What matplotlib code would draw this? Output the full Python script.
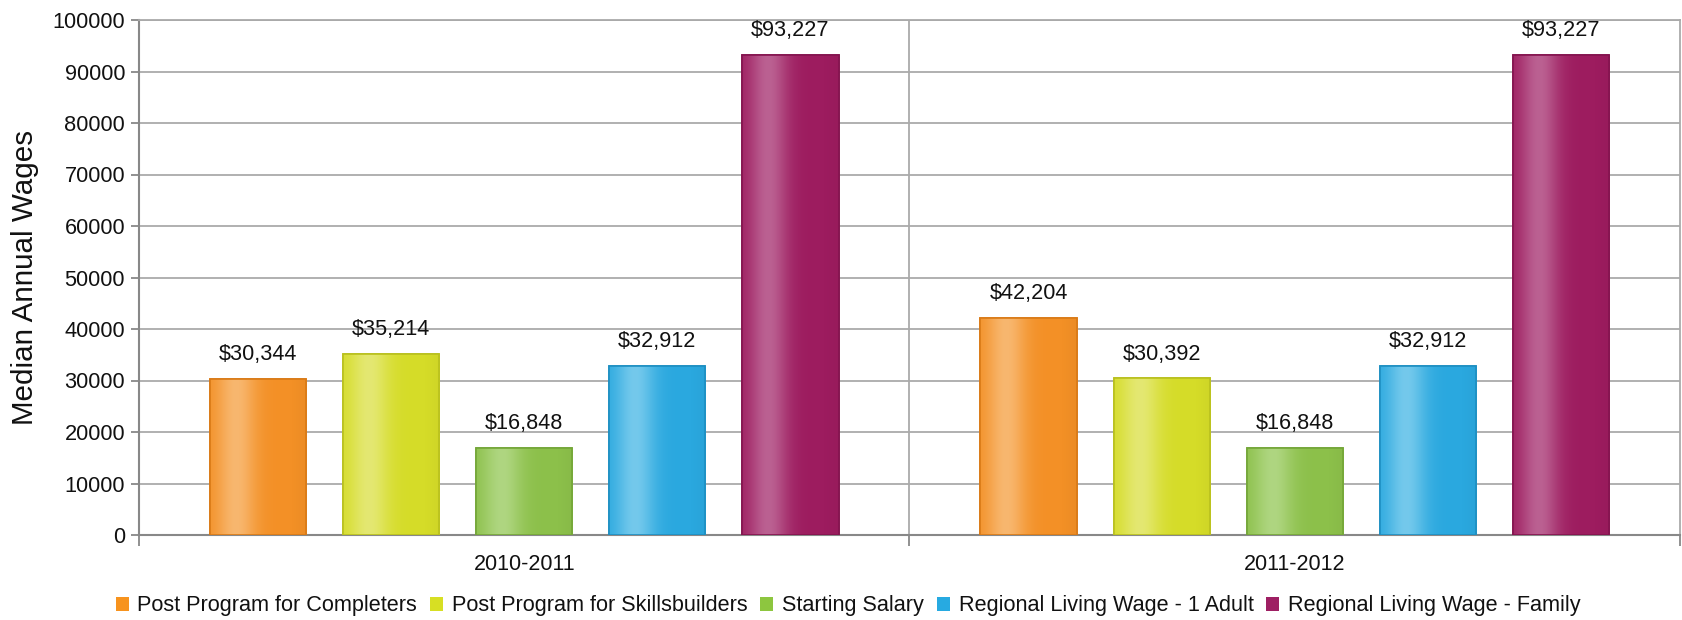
import numpy as np
import matplotlib
matplotlib.use("Agg")
import matplotlib.pyplot as plt
from matplotlib.patches import Patch
from matplotlib.colors import to_rgb

plt.rcParams['font.family'] = ['Liberation Sans', 'DejaVu Sans']

# ---- data ----
groups = ["2010-2011", "2011-2012"]
series = ["Post Program for Completers", "Post Program for Skillsbuilders",
          "Starting Salary", "Regional Living Wage - 1 Adult",
          "Regional Living Wage - Family"]
values = {
    "Post Program for Completers": [30344, 42204],
    "Post Program for Skillsbuilders": [35214, 30392],
    "Starting Salary": [16848, 16848],
    "Regional Living Wage - 1 Adult": [32912, 32912],
    "Regional Living Wage - Family": [93227, 93227],
}
yticks = [0, 10000, 20000, 30000, 40000, 50000, 60000, 70000, 80000, 90000, 100000]

# ---- styles ----
base_colors = ["#F39026", "#D5DC28", "#8CC04A", "#2AA8DF", "#9D1C5F"]
light_colors = ["#F8B76F", "#E4E872", "#AFD681", "#74C9EC", "#BB6192"]
edge_colors = ["#D97A16", "#B9C01E", "#74A638", "#1E8FC2", "#84144F"]
legend_colors = ["#F7931E", "#D7DF23", "#8DC63F", "#27AAE1", "#9E1F63"]

fig = plt.figure(figsize=(16.83, 6.2), dpi=100)
ax = fig.add_axes([139/1683, 1-535/620, (1680-139)/1683, (535-20)/620])

x = np.arange(len(groups))
spacing = 0.1727
width = 0.125
t = np.linspace(0, 1, 200)
w = np.exp(-((t - 0.27) / 0.2) ** 2)
dark = np.clip((t - 0.85) / 0.15, 0, 1) * 0.03

for i, s in enumerate(series):
    offs = (i - (len(series) - 1) / 2) * spacing
    bars = ax.bar(x + offs, values[s], width, color=base_colors[i],
                  edgecolor=edge_colors[i], linewidth=1.2, zorder=3)
    b = np.array(to_rgb(base_colors[i]))
    l = np.array(to_rgb(light_colors[i]))
    grad = b[None, :] * (1 - w[:, None]) + l[None, :] * w[:, None]
    grad = grad * (1 - dark[:, None])
    img = grad[None, :, :]
    for rect in bars:
        x0 = rect.get_x(); x1 = x0 + rect.get_width(); h = rect.get_height()
        im = ax.imshow(img, extent=[x0, x1, 0, h], aspect='auto', zorder=3.5,
                       interpolation='bilinear')
        im.set_clip_path(rect)
        ax.bar(rect.get_x() + rect.get_width() / 2, h, rect.get_width(),
               facecolor='none', edgecolor=edge_colors[i], linewidth=1.2, zorder=4)
        ax.annotate(f"${h:,.0f}", xy=(rect.get_x() + rect.get_width() / 2, h),
                    xytext=(0, 13.5), textcoords='offset points',
                    ha='center', va='baseline', fontsize=15.6, color='#111111', zorder=5)

ax.set_xlim(-0.5, len(groups) - 0.5)
ax.set_ylim(0, 100000)
ax.set_yticks(yticks)
ax.set_yticklabels([str(v) for v in yticks])
ax.yaxis.grid(True, color='#AAAAAA', linewidth=1.3, zorder=0)
ax.set_axisbelow(True)

# group separators
ax.set_xticks(np.arange(len(groups) + 1) - 0.5)
ax.set_xticklabels([])
ax.set_xticks(x, minor=True)
ax.set_xticklabels(groups, minor=True, fontsize=15.5, color='#111111')
ax.tick_params(axis='x', which='major', length=8, width=1.3, color='#888888', direction='out')
ax.tick_params(axis='x', which='minor', length=0, pad=14)
ax.tick_params(axis='y', length=6, width=1.3, color='#888888', labelsize=15.7,
               labelcolor='#111111', pad=4)
for xs in np.arange(1, len(groups)) - 0.5:
    ax.axvline(xs, color='#AAAAAA', linewidth=1.3, zorder=0)

for side in ['left', 'bottom']:
    ax.spines[side].set_color('#888888')
    ax.spines[side].set_linewidth(1.5)
for side in ['top', 'right']:
    ax.spines[side].set_color('#AAAAAA')
    ax.spines[side].set_linewidth(1.3)

ax.set_ylabel("Median Annual Wages", fontsize=21.3, color='#111111', labelpad=10)

handles = [Patch(facecolor=c, edgecolor='none') for c in legend_colors]
fig.legend(handles, series, loc='center', bbox_to_anchor=(0.504, 1 - 606/620),
           ncol=5, frameon=False, fontsize=15.6, handlelength=0.6, handleheight=0.6,
           handletextpad=0.4, columnspacing=0.6, labelcolor='#111111')

fig.savefig("out.png", dpi=100)
